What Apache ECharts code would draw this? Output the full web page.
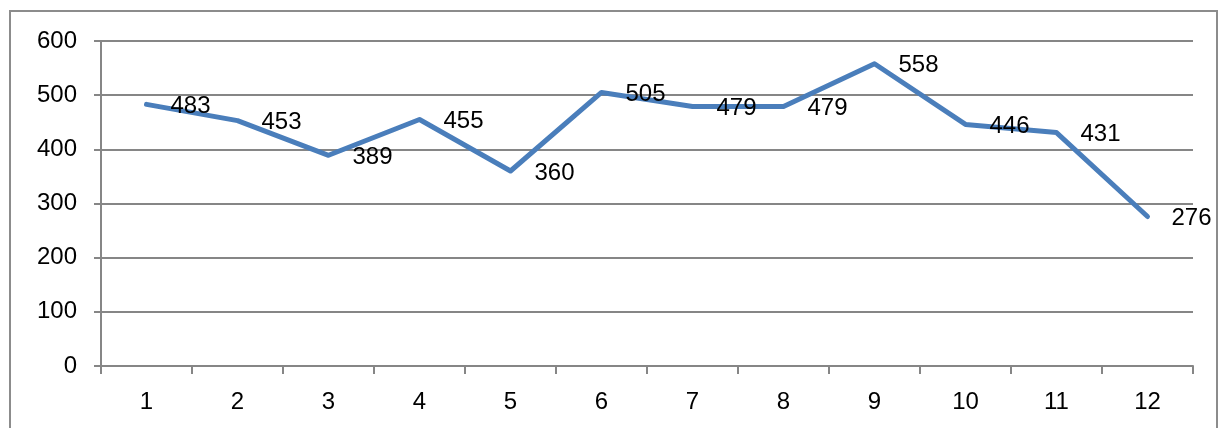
<!DOCTYPE html>
<html><head><meta charset="utf-8">
<script src="https://cdn.jsdelivr.net/npm/echarts@6/dist/echarts.min.js"></script>
<style>html,body{margin:0;padding:0;background:#fff}#c{width:1220px;height:428px}</style>
</head><body><div id="c"></div>
<script>
const categories = ['1','2','3','4','5','6','7','8','9','10','11','12'];
const values = [483,453,389,455,360,505,479,479,558,446,431,276];
const yTicks = {min:0, max:600, interval:100};
const chart = echarts.init(document.getElementById('c'), null, {renderer:'canvas'});
const font = 'Liberation Sans';
chart.setOption({
  animation:false,
  graphic:[{type:'rect', shape:{x:10,y:11,width:1207,height:430}, style:{fill:'none', stroke:'#8c8c8c', lineWidth:2}, silent:true}],
  grid:{left:101, right:27, top:41, bottom:62},
  xAxis:{type:'category', data:categories, boundaryGap:true,
    axisLine:{lineStyle:{color:'#868686', width:2}},
    axisTick:{show:true, length:8, lineStyle:{color:'#868686', width:2}},
    axisLabel:{color:'#000', fontSize:24, fontFamily:font, margin:24}},
  yAxis:{type:'value', min:yTicks.min, max:yTicks.max, interval:yTicks.interval,
    axisLine:{show:true, lineStyle:{color:'#868686', width:2}},
    axisTick:{show:true, length:7, lineStyle:{color:'#868686', width:2}},
    splitLine:{lineStyle:{color:'#868686', width:2}},
    axisLabel:{color:'#000', fontSize:24, fontFamily:font, margin:24}},
  series:[{type:'line', data:values, symbol:'circle', symbolSize:2, showSymbol:true,
    itemStyle:{color:'#4a7ebb'},
    lineStyle:{color:'#4a7ebb', width:5, cap:'round', join:'round'},
    labelLayout:{hideOverlap:false},
    label:{show:true, position:[25,3], align:'left', verticalAlign:'middle', color:'#000', fontSize:24, fontFamily:font}}]
});
</script></body></html>
